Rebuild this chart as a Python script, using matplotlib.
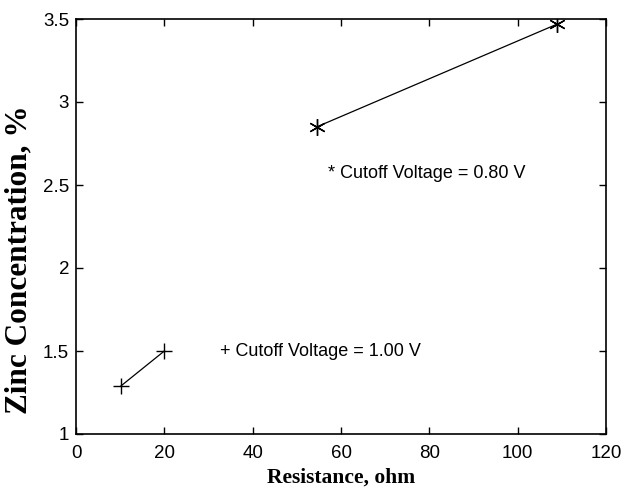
import matplotlib
matplotlib.use("Agg")
import matplotlib.pyplot as plt

# Data
res_100 = [10.2, 20.0]
zinc_100 = [1.29, 1.50]
res_080 = [54.5, 109.0]
zinc_080 = [2.85, 3.47]
xticks = [0, 20, 40, 60, 80, 100, 120]
yticks = [1, 1.5, 2, 2.5, 3, 3.5]
ytick_labels = ["1", "1.5", "2", "2.5", "3", "3.5"]

fig = plt.figure(figsize=(6.34, 4.88), dpi=100)
ax = fig.add_axes([76/634, 1 - 434/488, 530/634, 415/488])

ax.plot(res_100, zinc_100, color="black", lw=0.9, marker="+", markersize=12, markeredgewidth=1.0)
ax.plot(res_080, zinc_080, color="black", lw=0.9, marker=(6, 2, 0), markersize=12, markeredgewidth=1.0)

ax.text(57, 2.57, "* Cutoff Voltage = 0.80 V", fontsize=13, family="Liberation Sans", va="center", ha="left")
ax.text(32.6, 1.50, "+ Cutoff Voltage = 1.00 V", fontsize=13, family="Liberation Sans", va="center", ha="left")

ax.set_xlim(0, 120)
ax.set_ylim(1, 3.5)
ax.set_xticks(xticks)
ax.set_yticks(yticks)
ax.set_yticklabels(ytick_labels)
ax.tick_params(direction="in", top=True, right=True, length=5, width=1, labelsize=13.5)
ax.tick_params(axis="x", pad=8)
ax.tick_params(axis="y", pad=5)
for lab in ax.get_xticklabels() + ax.get_yticklabels():
    lab.set_family("Liberation Sans")
for s in ax.spines.values():
    s.set_linewidth(1.2)

ax.set_xlabel("Resistance, ohm", fontsize=15.5, fontweight="bold", family="Liberation Serif", labelpad=4)
ax.set_ylabel("Zinc Concentration, %", fontsize=22.5, fontweight="bold", family="Liberation Serif")
ax.yaxis.set_label_coords(-0.08, 0.42)

fig.savefig("out.png", dpi=100)
